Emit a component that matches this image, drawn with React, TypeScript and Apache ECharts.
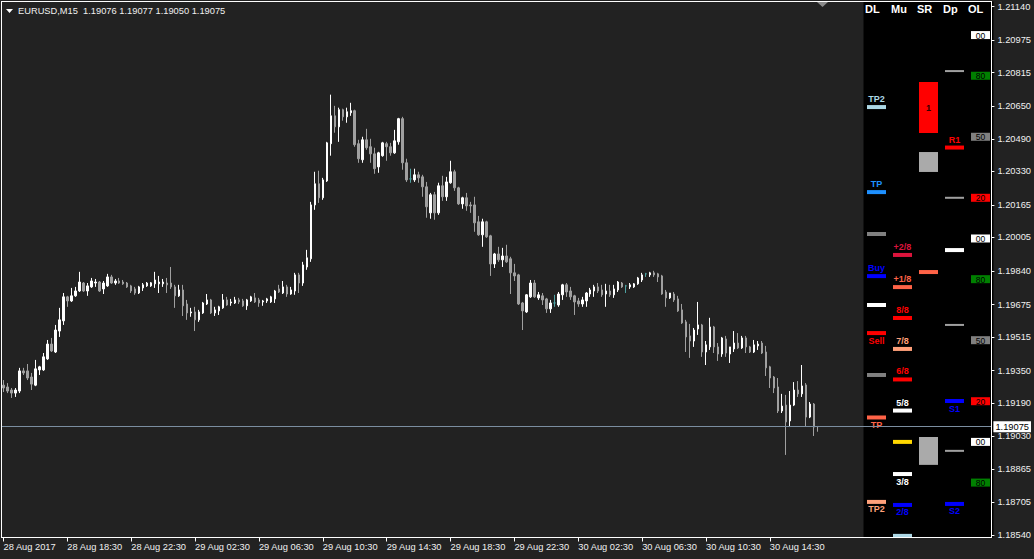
import React, { useEffect, useRef } from 'react';
import * as echarts from 'echarts';

// ---------- DATA ----------
const symbolName = 'EURUSD,M15';
const xTickLabels = ['28 Aug 2017', '28 Aug 18:30', '28 Aug 22:30', '29 Aug 02:30', '29 Aug 06:30', '29 Aug 10:30', '29 Aug 14:30', '29 Aug 18:30', '29 Aug 22:30', '30 Aug 02:30', '30 Aug 06:30', '30 Aug 10:30', '30 Aug 14:30'];
const yTickValues = [1.21140, 1.20975, 1.20815, 1.20650, 1.20490, 1.20330, 1.20165, 1.20005, 1.19840, 1.19675, 1.19515, 1.19350, 1.19190, 1.19030, 1.18865, 1.18705, 1.18540];
const Y_MIN = 1.18530;
const Y_MAX = 1.21165;

// [open, close, low, high]
const candles: number[][] = [
  [1.19279,1.19265,1.19245,1.19304],[1.19270,1.19250,1.19240,1.19289],[1.19255,1.19240,1.19216,1.19265],[1.19240,1.19255,1.19221,1.19265],
  [1.19250,1.19349,1.19240,1.19364],[1.19349,1.19339,1.19329,1.19364],[1.19349,1.19314,1.19304,1.19383],[1.19319,1.19284,1.19255,1.19339],
  [1.19279,1.19359,1.19274,1.19403],[1.19354,1.19369,1.19329,1.19374],[1.19354,1.19418,1.19349,1.19437],[1.19408,1.19481,1.19403,1.19501],
  [1.19481,1.19447,1.19442,1.19511],[1.19442,1.19550,1.19437,1.19575],[1.19545,1.19600,1.19516,1.19659],[1.19595,1.19713,1.19575,1.19732],
  [1.19713,1.19693,1.19664,1.19718],[1.19693,1.19718,1.19688,1.19757],[1.19718,1.19742,1.19713,1.19762],[1.19742,1.19786,1.19737,1.19836],
  [1.19781,1.19742,1.19737,1.19786],[1.19742,1.19767,1.19718,1.19781],[1.19762,1.19791,1.19757,1.19806],[1.19781,1.19786,1.19762,1.19801],
  [1.19786,1.19742,1.19737,1.19791],[1.19752,1.19781,1.19727,1.19791],[1.19767,1.19811,1.19762,1.19826],[1.19811,1.19781,1.19777,1.19821],
  [1.19781,1.19791,1.19772,1.19801],[1.19791,1.19781,1.19777,1.19806],[1.19786,1.19777,1.19772,1.19796],[1.19781,1.19762,1.19757,1.19786],
  [1.19767,1.19742,1.19732,1.19772],[1.19752,1.19732,1.19723,1.19762],[1.19732,1.19762,1.19727,1.19767],[1.19757,1.19772,1.19742,1.19781],
  [1.19767,1.19781,1.19762,1.19786],[1.19767,1.19782,1.19762,1.19786],[1.19777,1.19796,1.19757,1.19836],[1.19777,1.19786,1.19732,1.19816],
  [1.19777,1.19786,1.19762,1.19801],[1.19781,1.19772,1.19732,1.19806],[1.19781,1.19762,1.19752,1.19860],[1.19762,1.19718,1.19659,1.19772],
  [1.19718,1.19747,1.19713,1.19772],[1.19747,1.19669,1.19619,1.19772],[1.19678,1.19634,1.19600,1.19698],[1.19634,1.19639,1.19615,1.19659],
  [1.19639,1.19600,1.19545,1.19664],[1.19600,1.19639,1.19590,1.19649],[1.19634,1.19683,1.19629,1.19688],[1.19678,1.19698,1.19673,1.19727],
  [1.19698,1.19634,1.19629,1.19703],[1.19634,1.19649,1.19619,1.19664],[1.19644,1.19664,1.19624,1.19669],[1.19659,1.19698,1.19654,1.19727],
  [1.19698,1.19673,1.19669,1.19713],[1.19683,1.19688,1.19669,1.19703],[1.19683,1.19698,1.19678,1.19713],[1.19698,1.19688,1.19678,1.19708],
  [1.19693,1.19669,1.19664,1.19703],[1.19669,1.19698,1.19649,1.19703],[1.19693,1.19713,1.19688,1.19718],[1.19708,1.19688,1.19683,1.19732],
  [1.19698,1.19683,1.19664,1.19708],[1.19688,1.19693,1.19669,1.19698],[1.19693,1.19703,1.19683,1.19708],[1.19688,1.19713,1.19683,1.19718],
  [1.19703,1.19742,1.19683,1.19747],[1.19752,1.19737,1.19732,1.19772],[1.19732,1.19762,1.19727,1.19791],[1.19762,1.19727,1.19713,1.19772],
  [1.19727,1.19747,1.19723,1.19762],[1.19742,1.19821,1.19723,1.19831],[1.19821,1.19781,1.19732,1.19831],[1.19781,1.19870,1.19767,1.19885],
  [1.19860,1.19905,1.19846,1.19944],[1.19900,1.20165,1.19885,1.20180],[1.20165,1.20269,1.20141,1.20328],[1.20269,1.20200,1.20175,1.20333],
  [1.20200,1.20288,1.20190,1.20298],[1.20283,1.20470,1.20278,1.20475],[1.20466,1.20603,1.20407,1.20707],[1.20603,1.20549,1.20520,1.20652],
  [1.20549,1.20633,1.20475,1.20643],[1.20633,1.20598,1.20579,1.20638],[1.20598,1.20623,1.20569,1.20643],[1.20618,1.20628,1.20603,1.20667],
  [1.20628,1.20461,1.20451,1.20633],[1.20466,1.20392,1.20372,1.20485],[1.20387,1.20485,1.20372,1.20500],[1.20485,1.20446,1.20436,1.20539],
  [1.20451,1.20416,1.20372,1.20490],[1.20416,1.20343,1.20318,1.20446],[1.20352,1.20421,1.20323,1.20426],[1.20407,1.20470,1.20402,1.20475],
  [1.20466,1.20451,1.20382,1.20475],[1.20451,1.20421,1.20407,1.20470],[1.20421,1.20480,1.20416,1.20534],[1.20475,1.20589,1.20461,1.20593],
  [1.20589,1.20372,1.20338,1.20598],[1.20372,1.20288,1.20278,1.20392],[1.20293,1.20293,1.20274,1.20343],[1.20288,1.20313,1.20278,1.20343],
  [1.20313,1.20298,1.20274,1.20328],[1.20303,1.20254,1.20205,1.20313],[1.20254,1.20156,1.20102,1.20278],[1.20126,1.20215,1.20097,1.20224],
  [1.20215,1.20126,1.20092,1.20229],[1.20126,1.20259,1.20116,1.20274],[1.20259,1.20205,1.20185,1.20308],[1.20205,1.20278,1.20185,1.20303],
  [1.20274,1.20328,1.20269,1.20382],[1.20328,1.20249,1.20234,1.20338],[1.20249,1.20170,1.20165,1.20254],[1.20170,1.20200,1.20146,1.20205],
  [1.20200,1.20160,1.20136,1.20224],[1.20165,1.20160,1.20126,1.20180],[1.20165,1.20077,1.20033,1.20205],[1.20082,1.20018,1.20013,1.20111],
  [1.20018,1.20082,1.19959,1.20097],[1.20082,1.20008,1.20003,1.20087],[1.20013,1.19875,1.19816,1.20018],[1.19875,1.19924,1.19855,1.19929],
  [1.19924,1.19895,1.19885,1.19959],[1.19895,1.19914,1.19860,1.19954],[1.19914,1.19885,1.19880,1.19969],[1.19900,1.19831,1.19727,1.19910],
  [1.19831,1.19816,1.19791,1.19875],[1.19821,1.19678,1.19673,1.19826],[1.19683,1.19644,1.19550,1.19688],[1.19639,1.19723,1.19634,1.19727],
  [1.19713,1.19781,1.19708,1.19796],[1.19781,1.19713,1.19708,1.19796],[1.19708,1.19723,1.19698,1.19737],[1.19718,1.19698,1.19673,1.19732],
  [1.19703,1.19654,1.19634,1.19708],[1.19654,1.19683,1.19634,1.19698],[1.19683,1.19683,1.19664,1.19723],[1.19673,1.19727,1.19664,1.19737],
  [1.19723,1.19772,1.19698,1.19777],[1.19772,1.19737,1.19713,1.19781],[1.19742,1.19713,1.19698,1.19762],[1.19718,1.19688,1.19624,1.19723],
  [1.19693,1.19678,1.19664,1.19708],[1.19678,1.19698,1.19664,1.19713],[1.19693,1.19732,1.19664,1.19737],[1.19727,1.19747,1.19713,1.19757],
  [1.19742,1.19762,1.19713,1.19772],[1.19762,1.19742,1.19732,1.19781],[1.19747,1.19723,1.19713,1.19772],[1.19727,1.19742,1.19664,1.19777],
  [1.19742,1.19723,1.19713,1.19772],[1.19723,1.19752,1.19708,1.19772],[1.19747,1.19786,1.19737,1.19791],[1.19781,1.19762,1.19757,1.19786],
  [1.19767,1.19767,1.19732,1.19772],[1.19762,1.19772,1.19752,1.19781],[1.19762,1.19777,1.19757,1.19781],[1.19777,1.19806,1.19772,1.19811],
  [1.19796,1.19821,1.19786,1.19831],[1.19826,1.19826,1.19811,1.19831],[1.19821,1.19831,1.19811,1.19836],[1.19831,1.19821,1.19811,1.19841],
  [1.19826,1.19811,1.19786,1.19831],[1.19816,1.19727,1.19723,1.19821],[1.19737,1.19708,1.19664,1.19747],[1.19708,1.19732,1.19703,1.19732],
  [1.19727,1.19698,1.19688,1.19737],[1.19703,1.19644,1.19639,1.19718],[1.19649,1.19585,1.19580,1.19678],[1.19590,1.19516,1.19442,1.19600],
  [1.19521,1.19496,1.19413,1.19580],[1.19496,1.19550,1.19467,1.19560],[1.19555,1.19575,1.19526,1.19688],[1.19575,1.19442,1.19418,1.19580],
  [1.19442,1.19477,1.19378,1.19496],[1.19467,1.19565,1.19452,1.19610],[1.19565,1.19467,1.19437,1.19570],[1.19467,1.19432,1.19398,1.19486],
  [1.19432,1.19511,1.19418,1.19516],[1.19506,1.19437,1.19418,1.19521],[1.19432,1.19467,1.19388,1.19467],[1.19457,1.19486,1.19442,1.19545],
  [1.19486,1.19462,1.19457,1.19535],[1.19462,1.19511,1.19457,1.19521],[1.19511,1.19467,1.19437,1.19521],[1.19467,1.19442,1.19437,1.19472],
  [1.19442,1.19477,1.19437,1.19501],[1.19472,1.19481,1.19452,1.19496],[1.19486,1.19437,1.19432,1.19496],[1.19442,1.19364,1.19324,1.19472],
  [1.19369,1.19314,1.19265,1.19374],[1.19319,1.19265,1.19240,1.19324],[1.19270,1.19152,1.19142,1.19314],[1.19152,1.19176,1.19142,1.19236],
  [1.19181,1.19098,1.18936,1.19231],[1.19103,1.19181,1.19073,1.19250],[1.19181,1.19255,1.19176,1.19294],[1.19255,1.19236,1.19221,1.19299],
  [1.19236,1.19275,1.19221,1.19378],[1.19280,1.19122,1.19078,1.19289],[1.19122,1.19186,1.19117,1.19196],[1.19186,1.19073,1.19029,1.19191],
  [1.19076,1.19075,1.19050,1.19077],
];
const TOTAL_SLOTS = 248; // visible bar slots across the chart window

// Panel: DL column
const dlPrices = [1.20646, 1.20228, 1.20022, 1.19815, 1.19673, 1.19535, 1.19329, 1.19120, 1.18705];
const dlNames = ['TP2', 'TP', '', 'Buy', '', 'Sell', '', 'TP', 'TP2'];
// Panel: Mu column (Murrey levels)
const muPrices = [1.19919, 1.19761, 1.19609, 1.19457, 1.19307, 1.19154, 1.19000, 1.18842, 1.18690, 1.18538];
const muNames = ['+2/8', '+1/8', '8/8', '7/8', '6/8', '5/8', '', '3/8', '2/8', ''];
// Panel: SR column zones
const srZoneHigh = [1.20769, 1.20425, 1.19024];
const srZoneLow = [1.20518, 1.20327, 1.18887];
const srZoneNames = ['1', '', ''];
const srLinePrices = [1.19835];
// Panel: Dp column
const dpPrices = [1.20823, 1.20447, 1.20200, 1.19943, 1.19575, 1.19201, 1.18956, 1.18695];
const dpNames = ['', 'R1', '', '', '', 'S1', '', 'S2'];
// Panel: OL column (round levels)
const olPrices = [1.2100, 1.2080, 1.2050, 1.2020, 1.2000, 1.1980, 1.1950, 1.1920, 1.1900, 1.1880];
const olNames = ['00', '80', '50', '20', '00', '80', '50', '20', '00', '80'];

// ---------- STYLES ----------
const FONT = '"Liberation Sans", Arial, sans-serif';
const TXT = '#f0f0f0';
const dlColors = ['#add8e6', '#1e90ff', '#808080', '#0000ff', '#ffffff', '#ff0000', '#808080', '#ff6347', '#ffa07a'];
const dlBelow = [false, false, false, false, false, true, false, true, true];
const muColors = ['#dc143c', '#ff6347', '#ff0000', '#ffa07a', '#ff0000', '#ffffff', '#ffd700', '#ffffff', '#0000ff', '#add8e6'];
const muBelow = [false, false, false, false, false, false, false, true, true, true];
const srZoneColors = ['#ff0000', '#aaaaaa', '#aaaaaa'];
const srLineColors = ['#ff6347'];
const dpColors = ['#a0a0a0', '#ff0000', '#a0a0a0', '#ffffff', '#a0a0a0', '#0000ff', '#a0a0a0', '#0000ff'];
const dpThin = [true, false, true, false, true, false, true, false];
const dpBelow = [false, false, false, false, false, true, false, true];
const olColorMap: Record<string, string> = { '00': '#ffffff', '80': '#008000', '50': '#808080', '20': '#ff0000' };

type PanelItem = { col: number; price: number; price2?: number; kind: string; name: string; color: string; below?: boolean };

function buildPanel(): PanelItem[] {
  const items: PanelItem[] = [];
  dlPrices.forEach((p, i) => items.push({ col: 0, price: p, kind: 'bar', name: dlNames[i], color: dlColors[i], below: dlBelow[i] }));
  muPrices.forEach((p, i) => items.push({ col: 1, price: p, kind: 'bar', name: muNames[i], color: muColors[i], below: muBelow[i] }));
  srZoneHigh.forEach((p, i) => items.push({ col: 2, price: srZoneLow[i], price2: p, kind: 'zone', name: srZoneNames[i], color: srZoneColors[i] }));
  srLinePrices.forEach((p, i) => items.push({ col: 2, price: p, kind: 'bar', name: '', color: srLineColors[i] }));
  dpPrices.forEach((p, i) => items.push({ col: 3, price: p, kind: dpThin[i] ? 'thin' : 'bar', name: dpNames[i], color: dpColors[i], below: dpBelow[i] }));
  olPrices.forEach((p, i) => items.push({ col: 4, price: p, kind: 'box', name: olNames[i], color: olColorMap[olNames[i]] }));
  return items;
}

function buildOption() {
  const categories = Array.from({ length: TOTAL_SLOTS }, (_, i) => String(i));
  const showTick = (idx: number) => idx % 16 === 0 && idx / 16 < xTickLabels.length;
  const last = candles[candles.length - 1];
  const lastClose = last[1];
  const title = `${symbolName}  ${last[0].toFixed(5)} ${last[3].toFixed(5)} ${last[2].toFixed(5)} ${last[1].toFixed(5)}`;
  const panel = buildPanel();
  const BW = 19;

  const renderPanel = (params: any, api: any) => {
    const it = panel[params.dataIndex];
    const cx = it.col + 0.5;
    const c = api.coord([cx, it.price]);
    const children: any[] = [];
    const labelFont = `bold 9px ${FONT}`;
    if (it.kind === 'bar' || it.kind === 'thin') {
      const h = it.kind === 'bar' ? 4 : 2;
      children.push({ type: 'rect', shape: { x: c[0] - BW / 2, y: c[1] - h / 2, width: BW, height: h }, style: { fill: it.color } });
      if (it.name) {
        children.push({ type: 'text', x: c[0], y: c[1] + (it.below ? 7.5 : -8), style: { text: it.name, fill: it.color, font: labelFont, align: 'center', verticalAlign: 'middle' } });
      }
    } else if (it.kind === 'zone') {
      const top = api.coord([cx, it.price2])[1];
      children.push({ type: 'rect', shape: { x: c[0] - BW / 2, y: top, width: BW, height: c[1] - top }, style: { fill: it.color } });
      if (it.name) {
        children.push({ type: 'text', x: c[0], y: (top + c[1]) / 2, style: { text: it.name, fill: '#300000', font: labelFont, align: 'center', verticalAlign: 'middle' } });
      }
    } else if (it.kind === 'box') {
      children.push({ type: 'rect', shape: { x: c[0] - BW / 2, y: c[1] - 4, width: BW, height: 8 }, style: { fill: it.color } });
      children.push({ type: 'text', x: c[0], y: c[1] + 0.5, style: { text: it.name, fill: '#000', font: `8.5px ${FONT}`, align: 'center', verticalAlign: 'middle' } });
    }
    return { type: 'group', children };
  };

  const headers = ['DL', 'Mu', 'SR', 'Dp', 'OL'];
  const headerX = [865, 891, 917, 943, 968];

  return {
    backgroundColor: '#222222',
    animation: false,
    textStyle: { fontFamily: FONT },
    grid: [
      { left: 1.5, top: 1.5, width: 992, height: 536, show: false },
      { left: 863.5, top: 1.5, width: 130, height: 536, show: true, backgroundColor: '#000000', borderWidth: 0 },
    ],
    xAxis: [
      {
        type: 'category', gridIndex: 0, data: categories, boundaryGap: true, z: 10,
        axisLine: { show: true, onZero: false, lineStyle: { color: '#ffffff', width: 1 } },
        axisTick: { show: true, alignWithLabel: true, interval: showTick, length: 4, lineStyle: { color: '#ffffff' } },
        axisLabel: { show: true, interval: showTick, formatter: (_v: string, i: number) => (i % 16 === 0 && xTickLabels[i / 16]) || '', align: 'left', color: TXT, fontSize: 9.3, fontFamily: FONT, margin: 5 },
        splitLine: { show: false },
      },
      {
        type: 'value', gridIndex: 0, position: 'top', min: 0, max: 1, z: 10,
        axisLine: { show: true, onZero: false, lineStyle: { color: '#ffffff', width: 1 } },
        axisTick: { show: false }, axisLabel: { show: false }, splitLine: { show: false },
      },
      { type: 'value', gridIndex: 1, min: 0, max: 5, show: false, splitLine: { show: false } },
    ],
    yAxis: [
      {
        type: 'value', gridIndex: 0, position: 'right', min: Y_MIN, max: Y_MAX, z: 10,
        axisLine: { show: true, onZero: false, lineStyle: { color: '#ffffff', width: 1 } },
        axisTick: { show: true, customValues: yTickValues, length: 3, lineStyle: { color: '#ffffff' } },
        axisLabel: { show: true, customValues: yTickValues, formatter: (v: number) => v.toFixed(5), color: TXT, fontSize: 9.3, fontFamily: FONT, margin: 6 },
        splitLine: { show: false },
      },
      {
        type: 'value', gridIndex: 0, position: 'left', min: 0, max: 1, z: 10,
        axisLine: { show: true, onZero: false, lineStyle: { color: '#ffffff', width: 1 } },
        axisTick: { show: false }, axisLabel: { show: false }, splitLine: { show: false },
      },
      { type: 'value', gridIndex: 1, min: Y_MIN, max: Y_MAX, show: false, splitLine: { show: false } },
    ],
    series: [
      {
        type: 'candlestick', name: symbolName, xAxisIndex: 0, yAxisIndex: 0, data: candles, barWidth: 2,
        itemStyle: { color: '#ffffff', color0: '#a0a0a0', borderColor: '#ffffff', borderColor0: '#a0a0a0', borderColorDoji: '#4fa3a3', borderWidth: 1 },
        markLine: {
          silent: true, symbol: ['none', 'none'], animation: false, z: 8, precision: 5,
          lineStyle: { color: '#7b8ea0', width: 1, type: 'solid' },
          label: { show: true, position: 'end', formatter: lastClose.toFixed(5), backgroundColor: '#ffffff', color: '#000000', padding: [1, 2, 1, 2], fontSize: 9.3, fontFamily: FONT, distance: 2 },
          data: [{ yAxis: lastClose }],
        },
      },
      {
        type: 'custom', xAxisIndex: 2, yAxisIndex: 2, clip: false, z: 3,
        data: panel.map((p) => [p.col + 0.5, p.price]),
        renderItem: renderPanel,
      },
    ],
    graphic: [
      { type: 'polygon', z: 20, shape: { points: [[6, 9], [13, 9], [9.5, 13]] }, style: { fill: '#ffffff' } },
      { type: 'text', z: 20, x: 18, y: 10.5, style: { text: title, fill: TXT, font: `9.3px ${FONT}`, verticalAlign: 'middle' } },
      { type: 'polygon', z: 20, shape: { points: [[817, 2], [828, 2], [822.5, 7]] }, style: { fill: '#8a8a8a' } },
      ...headers.map((h, i) => ({ type: 'text', z: 20, x: headerX[i], y: 9, style: { text: h, fill: '#ffffff', font: `bold 11px ${FONT}`, verticalAlign: 'middle' } })),
    ],
  };
}

export default function App() {
  const ref = useRef<HTMLDivElement>(null);
  useEffect(() => {
    const chart = echarts.init(ref.current as HTMLDivElement, null, { renderer: 'svg' });
    chart.setOption(buildOption() as any);
    return () => chart.dispose();
  }, []);
  return <div ref={ref} style={{ position: 'fixed', left: 0, top: 0, width: 1034, height: 559 }} />;
}
